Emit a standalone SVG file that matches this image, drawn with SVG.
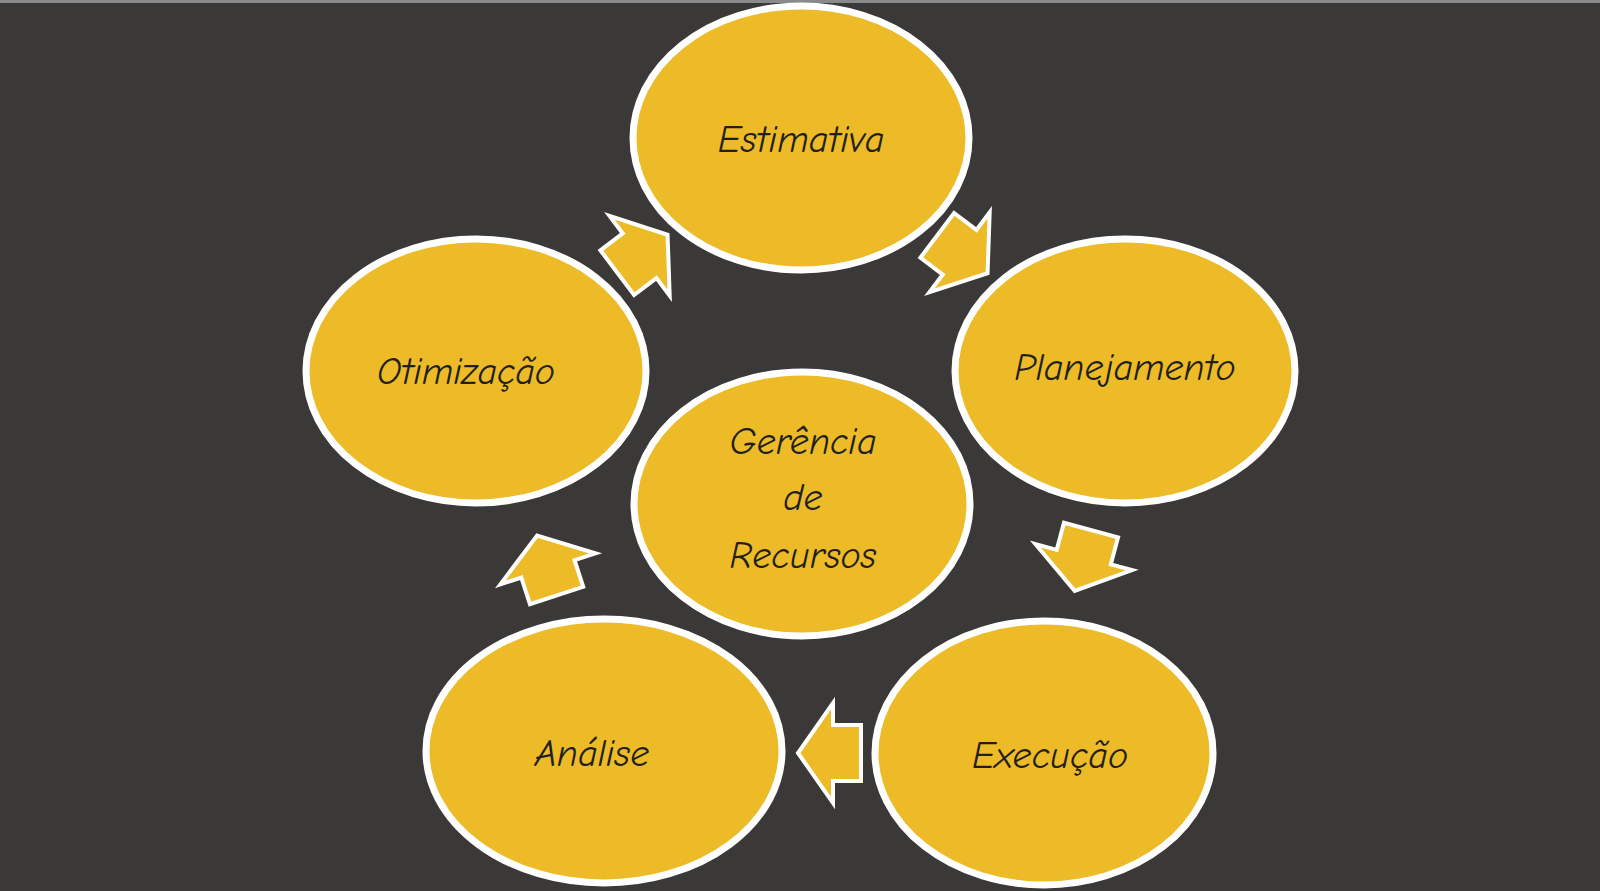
<svg xmlns="http://www.w3.org/2000/svg" width="1600" height="891" viewBox="0 0 1600 891">
<style>
.n{fill:#ECBB27;stroke:#FFFFFF;stroke-width:7}
.a{fill:#ECBB27;stroke:#FFFFFF;stroke-width:4;stroke-linejoin:miter}
text{font-family:"Comic Neue","DejaVu Sans",sans-serif;font-style:italic;font-size:38px;fill:#231F1C;text-anchor:middle}
</style>
<defs>
<polygon id="arr" class="a" points="-31,-28 -3,-28 -3,-50 32,0 -3,50 -3,28 -31,28"/>
</defs>
<rect width="1600" height="891" fill="#3A3938"/>
<rect width="1600" height="3" fill="#8a8a8a"/>
<g id="connectors">
<use href="#arr" transform="translate(962,254) rotate(37)"/>
<use href="#arr" transform="translate(1083,560) rotate(105)"/>
<use href="#arr" transform="translate(830,753) rotate(180)"/>
<use href="#arr" transform="translate(547,566) rotate(-108)"/>
<use href="#arr" transform="translate(642,254) rotate(-37)"/>
</g>
<g id="estimativa"><ellipse class="n" cx="801" cy="138" rx="168" ry="132"/><text x="801" y="152">Estimativa</text></g>
<g id="planejamento"><ellipse class="n" cx="1125" cy="371" rx="170" ry="132"/><text x="1125" y="380">Planejamento</text></g>
<g id="execucao"><ellipse class="n" cx="1044" cy="753" rx="169" ry="132"/><text x="1050" y="768">Execução</text></g>
<g id="analise"><ellipse class="n" cx="604" cy="751" rx="178" ry="132"/><text x="592" y="766">Análise</text></g>
<g id="otimizacao"><ellipse class="n" cx="476" cy="371" rx="170" ry="132"/><text x="466" y="384">Otimização</text></g>
<g id="gerencia"><ellipse class="n" cx="802" cy="504" rx="168" ry="132"/><text x="803" y="454">Gerência</text><text x="803" y="510">de</text><text x="803" y="568">Recursos</text></g>
</svg>
